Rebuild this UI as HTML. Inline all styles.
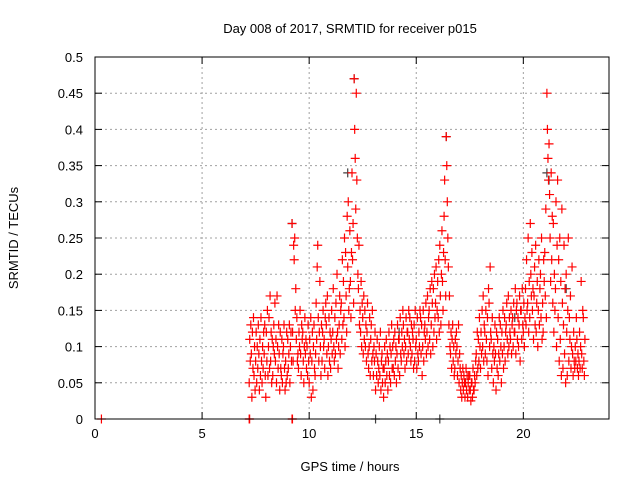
<!DOCTYPE html>
<html><head><meta charset="utf-8"><style>
body{margin:0;background:#fff}
svg{display:block;font-family:"Liberation Sans",sans-serif}
</style></head><body>
<svg id="chart" width="640" height="480" viewBox="0 0 640 480" xmlns="http://www.w3.org/2000/svg">
<rect x="0" y="0" width="640" height="480" fill="#fff"/>
<g id="grid"></g>
<g id="pts"></g>
<rect x="95" y="57" width="514" height="362" fill="none" stroke="#000" stroke-width="1"/>
<g id="ticks"></g>
<text x="350" y="33" font-size="13" text-anchor="middle">Day 008 of 2017, SRMTID for receiver p015</text>
<text x="350" y="471" font-size="13" text-anchor="middle">GPS time / hours</text>
<text transform="translate(18,238) rotate(-90)" font-size="13" text-anchor="middle">SRMTID / TECUs</text>
</svg>
<script>
const xTicks=[0,5,10,15,20];
const yTicks=[0,0.05,0.1,0.15,0.2,0.25,0.3,0.35,0.4,0.45,0.5];
const yTickLabels=["0","0.05","0.1","0.15","0.2","0.25","0.3","0.35","0.4","0.45","0.5"];
const binStart=7.2, binStep=0.1;
const binValues=[
[.05,.11,.08,.13],[.09,.03,.12,.07],[.14,.06,.10,.04],[.08,.12,.05,.10],[.07,.13,.09,.04],[.11,.06,.14,.08],[.05,.10,.07,.12],[.09,.13,.06,.03],
[.12,.08,.15,.06],[.10,.14,.07,.17],[.08,.12,.05,.11],[.06,.10,.13,.09],[.16,.08,.11,.05],[.17,.10,.07,.13],[.09,.04,.12,.07],[.06,.11,.05,.09],[.10,.13,.07,.04],[.08,.05,.12,.06],
[.11,.07,.09,.13],[.05,.10,.12,.08],[.27,.12,.08,.24],[.22,.25,.15,.18],[.11,.14,.08,.09],[.07,.12,.10,.15],[.09,.06,.13,.11],[.12,.08,.05,.10],[.14,.09,.11,.07],[.10,.06,.13,.08],
[.05,.11,.09,.14],[.03,.08,.12,.04],[.10,.13,.07,.06],[.09,.16,.11,.21],[.24,.14,.08,.12],[.19,.10,.06,.13],[.08,.12,.15,.10],[.11,.07,.14,.16],[.13,.09,.17,.06],[.10,.14,.08,.12],
[.07,.11,.15,.09],[.12,.18,.10,.08],[.14,.09,.16,.11],[.20,.12,.07,.10],[.13,.17,.09,.15],[.16,.11,.22,.13],[.19,.14,.25,.10],[.23,.17,.12,.28],[.21,.30,.15,.18],[.26,.19,.14,.23],
[.34,.22,.27,.16],[.47,.40,.36,.29],[.45,.33,.25,.20],[.18,.24,.13,.15],[.12,.19,.10,.16],[.14,.09,.17,.11],[.15,.10,.13,.08],[.12,.16,.09,.07],[.10,.14,.06,.11],[.13,.08,.15,.09],
[.06,.10,.08,.12],[.04,.09,.06,.11],[.08,.05,.07,.10],[.06,.12,.04,.08],[.09,.05,.07,.03],[.07,.10,.05,.08],[.11,.06,.09,.04],[.08,.12,.06,.10],[.05,.09,.13,.07],[.10,.07,.11,.06],
[.12,.08,.10,.05],[.09,.13,.07,.11],[.11,.06,.14,.09],[.08,.12,.10,.15],[.13,.09,.11,.07],[.10,.14,.08,.12],[.12,.09,.15,.11],[.14,.10,.08,.13],[.09,.12,.11,.07],[.13,.08,.15,.10],
[.11,.07,.14,.09],[.08,.12,.10,.15],[.14,.09,.13,.06],[.10,.15,.08,.12],[.13,.11,.16,.09],[.12,.17,.10,.14],[.15,.11,.18,.09],[.13,.19,.16,.10],[.18,.12,.20,.14],[.16,.21,.11,.15],
[.19,.14,.22,.12],[.24,.17,.13,.20],[.26,.19,.15,.23],[.28,.33,.22,.17],[.39,.35,.30,.25],[.21,.13,.17,.10],[.09,.12,.07,.11],[.13,.08,.10,.06],[.07,.11,.09,.12],[.10,.06,.08,.13],
[.05,.09,.07,.04],[.06,.03,.05,.07],[.04,.06,.05,.03],[.05,.07,.04,.06],[.03,.05,.06,.04],[.06,.04,.025,.05],[.05,.03,.07,.04],[.04,.06,.05,.08],[.09,.06,.12,.07],[.11,.08,.14,.10],
[.07,.12,.09,.15],[.10,.17,.08,.13],[.12,.09,.15,.11],[.08,.14,.06,.18],[.16,.10,.21,.12],[.11,.07,.14,.09],[.05,.10,.08,.13],[.09,.04,.12,.07],[.11,.06,.09,.14],[.08,.13,.10,.05],
[.12,.09,.15,.07],[.10,.14,.08,.12],[.13,.16,.11,.09],[.17,.10,.14,.12],[.11,.15,.09,.13],[.14,.10,.16,.12],[.12,.18,.09,.15],[.16,.11,.14,.10],[.13,.17,.08,.15],[.15,.11,.18,.13],
[.12,.16,.10,.14],[.18,.13,.22,.15],[.16,.25,.12,.19],[.14,.27,.20,.17],[.23,.15,.18,.11],[.17,.21,.13,.24],[.12,.16,.19,.10],[.15,.22,.13,.18],[.20,.14,.25,.11],[.16,.12,.22,.19],
[.23,.17,.29,.14],[.45,.40,.36,.33],[.38,.31,.25,.19],[.34,.22,.28,.16],[.27,.12,.20,.15],[.18,.30,.10,.24],[.33,.14,.22,.08],[.25,.11,.19,.06],[.29,.16,.07,.13],[.24,.09,.18,.05],
[.20,.12,.06,.15],[.25,.08,.14,.11],[.17,.07,.10,.21],[.09,.06,.12,.08],[.07,.10,.08,.14],[.11,.07,.09,.06],[.08,.12,.07,.10],[.19,.09,.07,.15],[.14,.08,.06,.11]
];
const greyHours=[9.2,11.8,12.1,13.1,16.1,16.4,21.1,21.2,22.0,17.3,14.2,19.6];
const greyValues=[.27,.34,.47,0,0,.39,.34,.33,.18,.05,.12,.14];
const zeroHours=[0.3,7.2,7.22,9.2,9.22];
const zeroValues=[0,0,0,0,0];

const X0=95,X1=609,Y0=419,Y1=57,XMAX=24,YMAX=0.5;
const xs=h=>X0+(X1-X0)*h/XMAX;
const ys=v=>Y0-(Y0-Y1)*v/YMAX;
const NS="http://www.w3.org/2000/svg";
function mk(t,a,p){const e=document.createElementNS(NS,t);for(const k in a)e.setAttribute(k,a[k]);p.appendChild(e);return e;}
const grid=document.getElementById('grid'),ticks=document.getElementById('ticks'),pts=document.getElementById('pts');
xTicks.forEach(t=>{const x=xs(t);
 if(t>0){const g=mk('line',{x1:x,y1:Y0,x2:x,y2:Y1,stroke:'#a0a0a0','stroke-dasharray':'2,3'},grid);
 
 }
 mk('line',{x1:x,y1:Y0,x2:x,y2:Y0-7,stroke:'#000'},ticks);
 mk('line',{x1:x,y1:Y1,x2:x,y2:Y1+7,stroke:'#000'},ticks);
 const l=mk('text',{x:x,y:Y0+19,'font-size':13,'text-anchor':'middle'},ticks);l.textContent=t;
 
 
});
yTicks.forEach((t,i)=>{const y=ys(t);
 if(t>0&&t<YMAX){const g=mk('line',{x1:X0,y1:y,x2:X1,y2:y,stroke:'#a0a0a0','stroke-dasharray':'2,3'},grid);
 
 }
 mk('line',{x1:X0,y1:y,x2:X0+7,y2:y,stroke:'#000'},ticks);
 mk('line',{x1:X1,y1:y,x2:X1-7,y2:y,stroke:'#000'},ticks);
 const l=mk('text',{x:X0-12,y:y+5,'font-size':13,'text-anchor':'end'},ticks);l.textContent=yTickLabels[i];
 
 
});
function cross(h,v,col,name){const x=xs(h),y=ys(v);
 const p=mk('path',{d:`M${x-4.5},${y}H${x+4.5}M${x},${y-4.5}V${y+4.5}`,stroke:col,'stroke-width':1.2,fill:'none'},pts);
 
 }
greyHours.forEach((h,i)=>cross(h,greyValues[i],'#404040','grey-point'));
binValues.forEach((b,i)=>b.forEach((v,j)=>cross(binStart+i*binStep+j*binStep/4,v,'#ff0000','red-point')));
zeroHours.forEach((h,i)=>cross(h,zeroValues[i],'#ff0000','zero-point'));
</script>
</body></html>
